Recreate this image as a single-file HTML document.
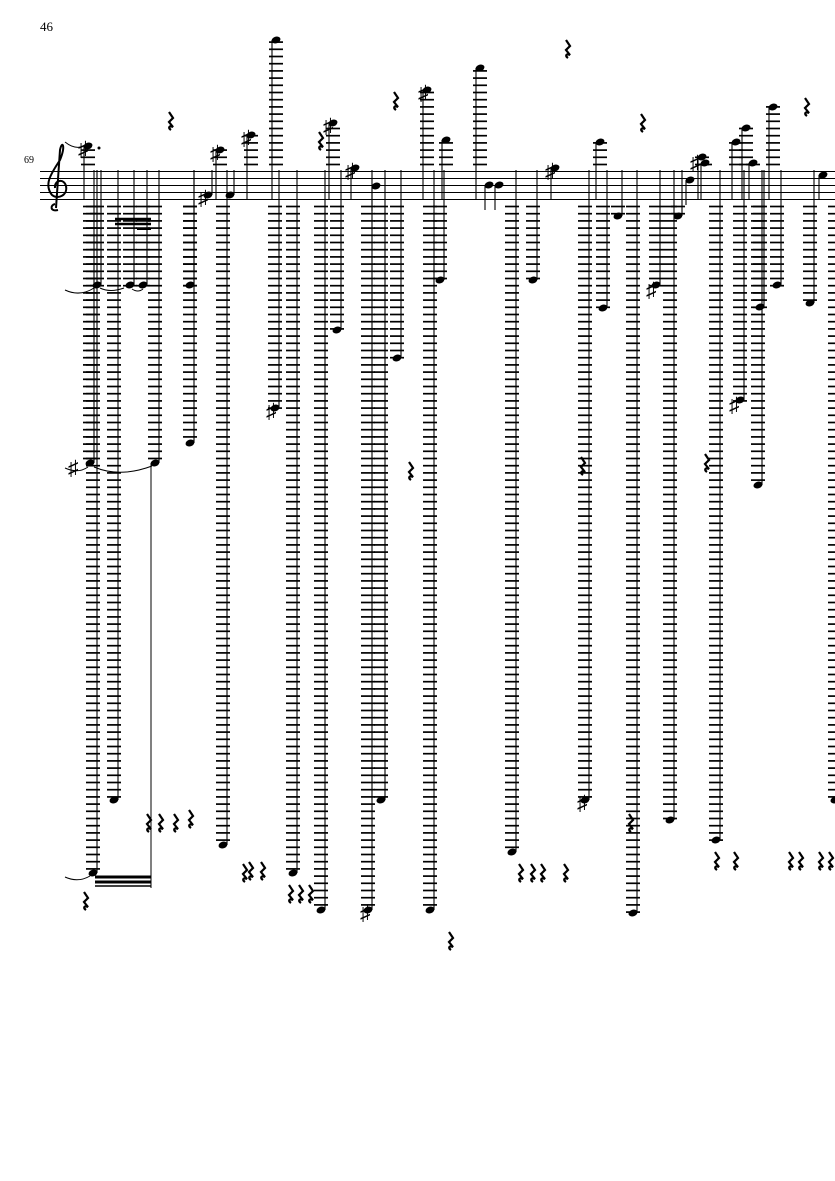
<!DOCTYPE html>
<html><head><meta charset="utf-8"><style>
html,body{margin:0;padding:0;background:#fff;}
svg{display:block;}
text{font-family:"Liberation Serif","DejaVu Serif",serif;}
</style></head><body>
<svg id="s" width="835" height="1181" viewBox="0 0 835 1181" xmlns="http://www.w3.org/2000/svg">
<text x="40" y="31" font-size="13">46</text>
<text x="24" y="163" font-size="10">69</text>
<g stroke="#000" stroke-width="1">
<line x1="40" y1="171.5" x2="835" y2="171.5"/>
<line x1="40" y1="178.5" x2="835" y2="178.5"/>
<line x1="40" y1="185.5" x2="835" y2="185.5"/>
<line x1="40" y1="192.5" x2="835" y2="192.5"/>
<line x1="40" y1="199.5" x2="835" y2="199.5"/>
</g>
<path d="M58 210 C50 212 50 205 55 204 M56 208 L60 150 C62 140 66 145 60 160 C50 175 44 185 52 195 C58 200 68 195 66 186 C64 178 54 180 55 188" fill="none" stroke="#000" stroke-width="2"/>
<g id="g"></g>
</svg>
<script>
var g=document.getElementById('g'),h='';
function L(x1,y1,x2,y2,w){h+='<line x1="'+x1+'" y1="'+y1+'" x2="'+x2+'" y2="'+y2+'" stroke="#000" stroke-width="'+(w||1)+'"/>';}
var notes=[[97,285],[90,463],[93,873],[114,800],[130,285],[143,285],[155,463],[190,285],[190,443],[223,845],[275,408],[293,873],[321,910],[337,330],[368,910],[381,800],[397,358],[440,280],[430,910],[512,852],[533,280],[585,800],[603,308],[633,913],[618,216],[656,285],[670,820],[716,840],[740,400],[758,485],[760,307],[777,285],[810,303],[835,800],[678,216],
[88,146],[220,150],[251,135],[276,40],[333,123],[355,168],[376,186],[427,90],[446,140],[480,68],[489,185],[499,185],[555,168],[600,142],[702,157],[705,163],[690,180],[736,142],[746,128],[753,163],[773,107],[823,175],[208,195],[230,195]];
notes.forEach(function(n){
 var x=n[0],y=n[1];
 if(y>203){for(var ly=206.5;ly<=y+1;ly+=7.2)L(x-7,ly,x+7,ly,1.7);}
 if(y<168){for(var ly=164.5;ly>=y-1;ly-=7.2)L(x-7,ly,x+7,ly,1.7);}
 h+='<ellipse cx="'+x+'" cy="'+y+'" rx="4.6" ry="3.3" transform="rotate(-20 '+x+' '+y+')" fill="#000"/>';
 var sx=x+4;
 if(y>190)L(sx,y,sx,Math.min(y-25,170),1.1);else L(x-4,y,x-4,Math.max(y+25,200),1.1);
});
[[78,149],[210,153],[241,138],[323,126],[345,171],[418,93],[198,198],[545,171],[266,411],[360,913],[577,803],[646,290],[729,405],[690,163],[68,468]].forEach(function(p){h+='<text x="'+p[0]+'" y="'+(p[1]+7)+'" font-size="21" font-family="DejaVu Sans">♯</text>';});
function R(x,y){h+='<path d="M'+(x-1)+' '+(y-8)+' l4 6 l-4 4 l4 5 c-4 -2 -5 1 -2 3" fill="none" stroke="#000" stroke-width="2.2"/>';}
[[170,120],[395,100],[567,48],[642,122],[806,106],[320,140],[148,822],[160,822],[175,822],[190,818],[250,870],[262,870],[290,893],[300,893],[310,893],[410,470],[520,872],[532,872],[542,872],[565,872],[582,465],[630,822],[706,462],[716,860],[735,860],[790,860],[800,860],[820,860],[830,860],[450,940],[85,900],[244,872]].forEach(function(p){R(p[0],p[1]);});
L(95,877,151,877,3);L(95,882,151,882,3);L(95,886,151,886,1.5);
L(115,219,151,219,2.5);L(115,224,151,224,2.5);L(137,229,151,229,2);
L(151,463,151,888,1);
h+='<path d="M65 290 Q80 297 94 288 M100 288 Q110 293 124 288 M132 289 Q138 293 143 289 M65 468 Q78 474 88 467 M94 467 Q120 478 152 466 M65 877 Q78 883 90 876 M65 142 Q75 150 84 146" fill="none" stroke="#000" stroke-width="1"/>';
h+='<circle cx="99" cy="148" r="1.5" fill="#000"/>';
g.innerHTML=h;
</script>
</body></html>
